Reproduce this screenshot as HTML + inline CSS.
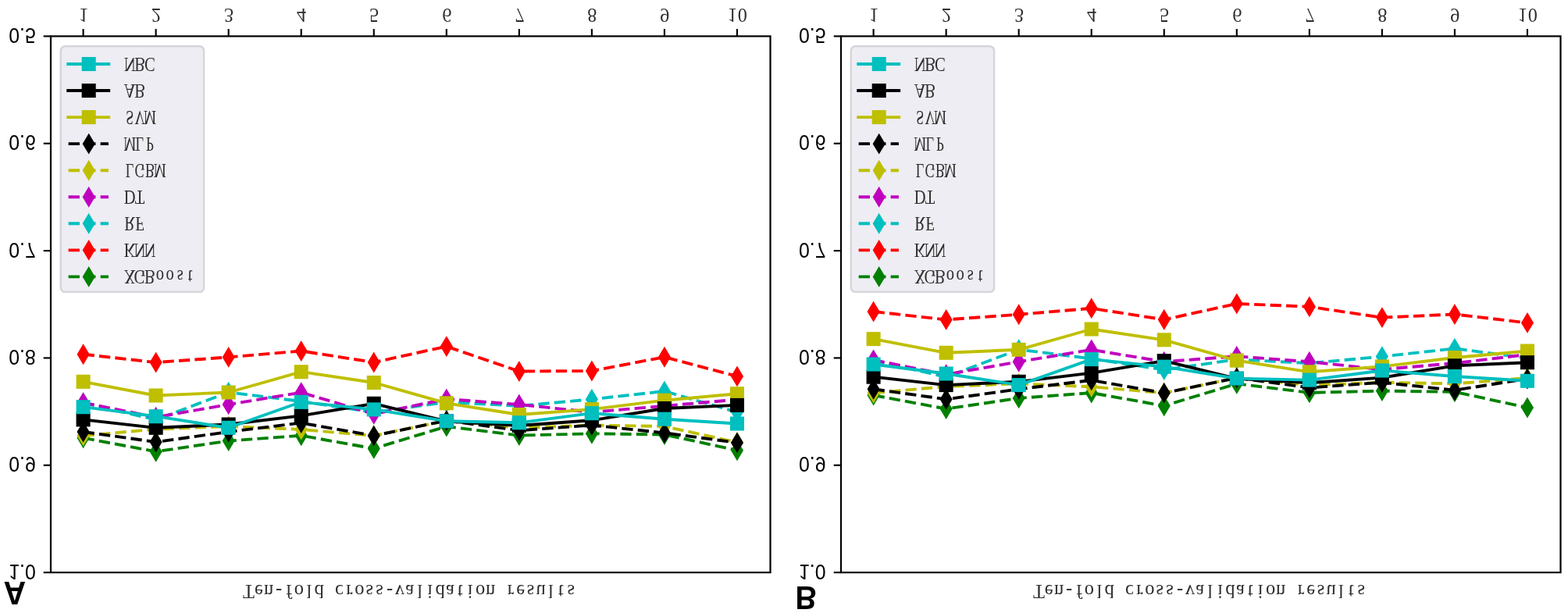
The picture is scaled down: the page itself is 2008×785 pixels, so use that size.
<!DOCTYPE html>
<html lang="en">
<head>
<meta charset="utf-8">
<title>Ten-fold cross-validation results</title>
<style>
html,body{margin:0;padding:0;background:#fff;}
body{width:2008px;height:785px;overflow:hidden;}
svg{display:block;}
text{white-space:pre;}
.t{font-family:"Liberation Serif",serif;font-size:25.74px;fill:#2e2e2e;text-anchor:middle;}
.yt{font-family:"Liberation Sans",sans-serif;font-size:25.74px;fill:#000;text-anchor:end;}
.pl{font-family:"Liberation Sans",sans-serif;font-weight:bold;font-size:41.6px;fill:#000;}
.s polyline,.s line{fill:none;stroke-width:3.87;stroke-linejoin:round;stroke-linecap:butt;}
.s.dash polyline,.s.dash line{stroke-dasharray:14.31 6.19;}
.s rect,.s polygon{stroke-width:2.574;stroke-linejoin:miter;stroke-miterlimit:10;}
.c{stroke:#00BFBF;fill:#00BFBF;}
.k{stroke:#000000;fill:#000000;}
.y{stroke:#BFBF00;fill:#BFBF00;}
.m{stroke:#BF00BF;fill:#BF00BF;}
.r{stroke:#FF0000;fill:#FF0000;}
.g{stroke:#008000;fill:#008000;}
.spine{fill:none;stroke:#000;stroke-width:2.2;}
.tick line{stroke:#000;stroke-width:2.15;}
.legend{fill:#ededf3;stroke:#d5d5d9;stroke-width:2.4;}
</style>
</head>
<body>
<svg width="2008" height="785" viewBox="0 0 2008 785">
<rect x="0" y="0" width="2008" height="785" fill="#ffffff"/>
<g class="panel" id="panel-A">
<g class="s g dash">
<polyline points="106.6,560.8 199.64,578.3 292.68,564.6 385.72,557.8 478.76,574.4 571.8,546.1 664.84,557.6 757.88,555.3 850.92,556.5 943.96,576.7"/>
<polygon points="106.6,549.86 113.16,560.8 106.6,571.74 100.04,560.8"/>
<polygon points="199.64,567.36 206.2,578.3 199.64,589.24 193.08,578.3"/>
<polygon points="292.68,553.66 299.24,564.6 292.68,575.54 286.12,564.6"/>
<polygon points="385.72,546.86 392.28,557.8 385.72,568.74 379.16,557.8"/>
<polygon points="478.76,563.46 485.32,574.4 478.76,585.34 472.2,574.4"/>
<polygon points="571.8,535.16 578.36,546.1 571.8,557.04 565.24,546.1"/>
<polygon points="664.84,546.66 671.4,557.6 664.84,568.54 658.28,557.6"/>
<polygon points="757.88,544.36 764.44,555.3 757.88,566.24 751.32,555.3"/>
<polygon points="850.92,545.56 857.48,556.5 850.92,567.44 844.36,556.5"/>
<polygon points="943.96,565.76 950.52,576.7 943.96,587.64 937.4,576.7"/>
</g>
<g class="s r dash">
<polyline points="106.6,453.7 199.64,464.1 292.68,457.4 385.72,449.5 478.76,464 571.8,443.6 664.84,475.5 757.88,475 850.92,457.2 943.96,481.9"/>
<polygon points="106.6,442.76 113.16,453.7 106.6,464.64 100.04,453.7"/>
<polygon points="199.64,453.16 206.2,464.1 199.64,475.04 193.08,464.1"/>
<polygon points="292.68,446.46 299.24,457.4 292.68,468.34 286.12,457.4"/>
<polygon points="385.72,438.56 392.28,449.5 385.72,460.44 379.16,449.5"/>
<polygon points="478.76,453.06 485.32,464 478.76,474.94 472.2,464"/>
<polygon points="571.8,432.66 578.36,443.6 571.8,454.54 565.24,443.6"/>
<polygon points="664.84,464.56 671.4,475.5 664.84,486.44 658.28,475.5"/>
<polygon points="757.88,464.06 764.44,475 757.88,485.94 751.32,475"/>
<polygon points="850.92,446.26 857.48,457.2 850.92,468.14 844.36,457.2"/>
<polygon points="943.96,470.96 950.52,481.9 943.96,492.84 937.4,481.9"/>
</g>
<g class="s c dash">
<polyline points="106.6,516 199.64,537.5 292.68,502.3 385.72,514 478.76,528 571.8,515 664.84,519.8 757.88,511.3 850.92,501 943.96,527.8"/>
<polygon points="106.6,505.06 113.16,516 106.6,526.94 100.04,516"/>
<polygon points="199.64,526.56 206.2,537.5 199.64,548.44 193.08,537.5"/>
<polygon points="292.68,491.36 299.24,502.3 292.68,513.24 286.12,502.3"/>
<polygon points="385.72,503.06 392.28,514 385.72,524.94 379.16,514"/>
<polygon points="478.76,517.06 485.32,528 478.76,538.94 472.2,528"/>
<polygon points="571.8,504.06 578.36,515 571.8,525.94 565.24,515"/>
<polygon points="664.84,508.86 671.4,519.8 664.84,530.74 658.28,519.8"/>
<polygon points="757.88,500.36 764.44,511.3 757.88,522.24 751.32,511.3"/>
<polygon points="850.92,490.06 857.48,501 850.92,511.94 844.36,501"/>
<polygon points="943.96,516.86 950.52,527.8 943.96,538.74 937.4,527.8"/>
</g>
<g class="s m dash">
<polyline points="106.6,515.7 199.64,534.3 292.68,517.9 385.72,502.6 478.76,530.2 571.8,511 664.84,518 757.88,527.8 850.92,519.8 943.96,511.7"/>
<polygon points="106.6,504.76 113.16,515.7 106.6,526.64 100.04,515.7"/>
<polygon points="199.64,523.36 206.2,534.3 199.64,545.24 193.08,534.3"/>
<polygon points="292.68,506.96 299.24,517.9 292.68,528.84 286.12,517.9"/>
<polygon points="385.72,491.66 392.28,502.6 385.72,513.54 379.16,502.6"/>
<polygon points="478.76,519.26 485.32,530.2 478.76,541.14 472.2,530.2"/>
<polygon points="571.8,500.06 578.36,511 571.8,521.94 565.24,511"/>
<polygon points="664.84,507.06 671.4,518 664.84,528.94 658.28,518"/>
<polygon points="757.88,516.86 764.44,527.8 757.88,538.74 751.32,527.8"/>
<polygon points="850.92,508.86 857.48,519.8 850.92,530.74 844.36,519.8"/>
<polygon points="943.96,500.76 950.52,511.7 943.96,522.64 937.4,511.7"/>
</g>
<g class="s y dash">
<polyline points="106.6,558 199.64,549.6 292.68,546 385.72,550 478.76,558 571.8,538.6 664.84,548 757.88,544.5 850.92,546 943.96,566.5"/>
<polygon points="106.6,547.06 113.16,558 106.6,568.94 100.04,558"/>
<polygon points="199.64,538.66 206.2,549.6 199.64,560.54 193.08,549.6"/>
<polygon points="292.68,535.06 299.24,546 292.68,556.94 286.12,546"/>
<polygon points="385.72,539.06 392.28,550 385.72,560.94 379.16,550"/>
<polygon points="478.76,547.06 485.32,558 478.76,568.94 472.2,558"/>
<polygon points="571.8,527.66 578.36,538.6 571.8,549.54 565.24,538.6"/>
<polygon points="664.84,537.06 671.4,548 664.84,558.94 658.28,548"/>
<polygon points="757.88,533.56 764.44,544.5 757.88,555.44 751.32,544.5"/>
<polygon points="850.92,535.06 857.48,546 850.92,556.94 844.36,546"/>
<polygon points="943.96,555.56 950.52,566.5 943.96,577.44 937.4,566.5"/>
</g>
<g class="s k dash">
<polyline points="106.6,553 199.64,566 292.68,553 385.72,541.6 478.76,558 571.8,538.6 664.84,551.2 757.88,544.5 850.92,554.4 943.96,566.9"/>
<polygon points="106.6,542.06 113.16,553 106.6,563.94 100.04,553"/>
<polygon points="199.64,555.06 206.2,566 199.64,576.94 193.08,566"/>
<polygon points="292.68,542.06 299.24,553 292.68,563.94 286.12,553"/>
<polygon points="385.72,530.66 392.28,541.6 385.72,552.54 379.16,541.6"/>
<polygon points="478.76,547.06 485.32,558 478.76,568.94 472.2,558"/>
<polygon points="571.8,527.66 578.36,538.6 571.8,549.54 565.24,538.6"/>
<polygon points="664.84,540.26 671.4,551.2 664.84,562.14 658.28,551.2"/>
<polygon points="757.88,533.56 764.44,544.5 757.88,555.44 751.32,544.5"/>
<polygon points="850.92,543.46 857.48,554.4 850.92,565.34 844.36,554.4"/>
<polygon points="943.96,555.96 950.52,566.9 943.96,577.84 937.4,566.9"/>
</g>
<g class="s y">
<polyline points="106.6,488.8 199.64,506.5 292.68,502.5 385.72,476.2 478.76,490 571.8,516.3 664.84,531 757.88,524.1 850.92,512.7 943.96,504.2"/>
<rect x="98.86" y="481.06" width="15.47" height="15.47"/>
<rect x="191.9" y="498.76" width="15.47" height="15.47"/>
<rect x="284.94" y="494.76" width="15.47" height="15.47"/>
<rect x="377.99" y="468.46" width="15.47" height="15.47"/>
<rect x="471.02" y="482.26" width="15.47" height="15.47"/>
<rect x="564.07" y="508.56" width="15.47" height="15.47"/>
<rect x="657.11" y="523.26" width="15.47" height="15.47"/>
<rect x="750.15" y="516.37" width="15.47" height="15.47"/>
<rect x="843.19" y="504.97" width="15.47" height="15.47"/>
<rect x="936.23" y="496.46" width="15.47" height="15.47"/>
</g>
<g class="s k">
<polyline points="106.6,537.4 199.64,547.8 292.68,543.5 385.72,532.4 478.76,516.8 571.8,539.5 664.84,545 757.88,538.3 850.92,523 943.96,518.9"/>
<rect x="98.86" y="529.66" width="15.47" height="15.47"/>
<rect x="191.9" y="540.06" width="15.47" height="15.47"/>
<rect x="284.94" y="535.76" width="15.47" height="15.47"/>
<rect x="377.99" y="524.66" width="15.47" height="15.47"/>
<rect x="471.02" y="509.06" width="15.47" height="15.47"/>
<rect x="564.07" y="531.76" width="15.47" height="15.47"/>
<rect x="657.11" y="537.26" width="15.47" height="15.47"/>
<rect x="750.15" y="530.56" width="15.47" height="15.47"/>
<rect x="843.19" y="515.26" width="15.47" height="15.47"/>
<rect x="936.23" y="511.16" width="15.47" height="15.47"/>
</g>
<g class="s c">
<polyline points="106.6,521.2 199.64,533.2 292.68,547.8 385.72,514.8 478.76,524.4 571.8,539.3 664.84,541.3 757.88,529.2 850.92,536.7 943.96,542.5"/>
<rect x="98.86" y="513.47" width="15.47" height="15.47"/>
<rect x="191.9" y="525.47" width="15.47" height="15.47"/>
<rect x="284.94" y="540.06" width="15.47" height="15.47"/>
<rect x="377.99" y="507.06" width="15.47" height="15.47"/>
<rect x="471.02" y="516.66" width="15.47" height="15.47"/>
<rect x="564.07" y="531.56" width="15.47" height="15.47"/>
<rect x="657.11" y="533.56" width="15.47" height="15.47"/>
<rect x="750.15" y="521.47" width="15.47" height="15.47"/>
<rect x="843.19" y="528.97" width="15.47" height="15.47"/>
<rect x="936.23" y="534.76" width="15.47" height="15.47"/>
</g>
<rect class="spine" x="65" y="46.4" width="921.5" height="686.7"/>
<g class="tick">
<line x1="106.6" y1="46.4" x2="106.6" y2="37.1"/>
<line x1="199.64" y1="46.4" x2="199.64" y2="37.1"/>
<line x1="292.68" y1="46.4" x2="292.68" y2="37.1"/>
<line x1="385.72" y1="46.4" x2="385.72" y2="37.1"/>
<line x1="478.76" y1="46.4" x2="478.76" y2="37.1"/>
<line x1="571.8" y1="46.4" x2="571.8" y2="37.1"/>
<line x1="664.84" y1="46.4" x2="664.84" y2="37.1"/>
<line x1="757.88" y1="46.4" x2="757.88" y2="37.1"/>
<line x1="850.92" y1="46.4" x2="850.92" y2="37.1"/>
<line x1="943.96" y1="46.4" x2="943.96" y2="37.1"/>
<line x1="65" y1="46.4" x2="55.7" y2="46.4"/>
<line x1="65" y1="183.74" x2="55.7" y2="183.74"/>
<line x1="65" y1="321.08" x2="55.7" y2="321.08"/>
<line x1="65" y1="458.42" x2="55.7" y2="458.42"/>
<line x1="65" y1="595.76" x2="55.7" y2="595.76"/>
<line x1="65" y1="733.1" x2="55.7" y2="733.1"/>
</g>
<text class="t" transform="translate(0,10.6) scale(0.94,-1)" x="113.83" y="0">1</text>
<text class="t" transform="translate(0,10.6) scale(0.94,-1)" x="212.81" y="0">2</text>
<text class="t" transform="translate(0,10.6) scale(0.94,-1)" x="311.79" y="0">3</text>
<text class="t" transform="translate(0,10.6) scale(0.94,-1)" x="410.77" y="0">4</text>
<text class="t" transform="translate(0,10.6) scale(0.94,-1)" x="509.74" y="0">5</text>
<text class="t" transform="translate(0,10.6) scale(0.94,-1)" x="608.72" y="0">6</text>
<text class="t" transform="translate(0,10.6) scale(0.94,-1)" x="707.7" y="0">7</text>
<text class="t" transform="translate(0,10.6) scale(0.94,-1)" x="806.68" y="0">8</text>
<text class="t" transform="translate(0,10.6) scale(0.94,-1)" x="905.66" y="0">9</text>
<text class="t" transform="translate(0,10.6) scale(0.94,-1)" x="997.78 1011.5" y="0">10</text>
<text class="yt" transform="translate(45.8,36.1) scale(0.965,-1.09)">0.5</text>
<text class="yt" transform="translate(45.8,173.44) scale(0.965,-1.09)">0.6</text>
<text class="yt" transform="translate(45.8,310.78) scale(0.965,-1.09)">0.7</text>
<text class="yt" transform="translate(45.8,448.12) scale(0.965,-1.09)">0.8</text>
<text class="yt" transform="translate(45.8,585.46) scale(0.965,-1.09)">0.9</text>
<text class="yt" transform="translate(45.8,722.8) scale(0.965,-1.09)">1.0</text>
<rect class="legend" x="77.8" y="59.2" width="183.3" height="314.7" rx="5.5" ry="5.5"/>
<g class="s c"><line x1="85.25" y1="82" x2="141.15" y2="82"/><rect x="105.96" y="74.27" width="15.47" height="15.47"/></g>
<text class="t" transform="translate(0,73.7) scale(0.8,-1)" x="207.69 223.81 239.94" y="0">NBC</text>
<g class="s k"><line x1="85.25" y1="116.05" x2="141.15" y2="116.05"/><rect x="105.96" y="108.31" width="15.47" height="15.47"/></g>
<text class="t" transform="translate(0,107.75) scale(0.8,-1)" x="207.69 223.81" y="0">AB</text>
<g class="s y"><line x1="85.25" y1="150.1" x2="141.15" y2="150.1"/><rect x="105.96" y="142.36" width="15.47" height="15.47"/></g>
<text class="t" transform="translate(0,141.8) scale(0.7,-1)" x="237.36 255.79 274.21" y="0">SVM</text>
<g class="s k dash"><line x1="87.65" y1="184.15" x2="138.95" y2="184.15"/><polygon points="113.7,173.21 120.26,184.15 113.7,195.09 107.14,184.15"/></g>
<text class="t" transform="translate(0,175.85) scale(0.7,-1)" x="237.36 255.79 274.21" y="0">MLP</text>
<g class="s y dash"><line x1="87.65" y1="218.2" x2="138.95" y2="218.2"/><polygon points="113.7,207.26 120.26,218.2 113.7,229.14 107.14,218.2"/></g>
<text class="t" transform="translate(0,209.9) scale(0.7,-1)" x="237.36 255.79 274.21 292.64" y="0">LGBM</text>
<g class="s m dash"><line x1="87.65" y1="252.25" x2="138.95" y2="252.25"/><polygon points="113.7,241.31 120.26,252.25 113.7,263.19 107.14,252.25"/></g>
<text class="t" transform="translate(0,243.95) scale(0.8,-1)" x="207.69 223.81" y="0">DT</text>
<g class="s c dash"><line x1="87.65" y1="286.3" x2="138.95" y2="286.3"/><polygon points="113.7,275.36 120.26,286.3 113.7,297.24 107.14,286.3"/></g>
<text class="t" transform="translate(0,278) scale(0.8,-1)" x="207.69 223.81" y="0">RF</text>
<g class="s r dash"><line x1="87.65" y1="320.35" x2="138.95" y2="320.35"/><polygon points="113.7,309.41 120.26,320.35 113.7,331.29 107.14,320.35"/></g>
<text class="t" transform="translate(0,312.05) scale(0.8,-1)" x="207.69 223.81 239.94" y="0">KNN</text>
<g class="s g dash"><line x1="87.65" y1="354.4" x2="138.95" y2="354.4"/><polygon points="113.7,343.46 120.26,354.4 113.7,365.34 107.14,354.4"/></g>
<text class="t" transform="translate(0,346.1) scale(0.8,-1)" x="207.69 223.81 239.94 256.06 272.19 288.31 304.44" y="0">XGBoost</text>
<text class="t" transform="translate(0,749.4) scale(0.95,-1)" x="335.16 348.74 362.32 375.89 389.47 403.05 416.63 430.21 443.79 457.37 470.95 484.53 498.11 511.68 525.26 538.84 552.42 566 579.58 593.16 606.74 620.32 633.89 647.47 661.05 674.63 688.21 701.79 715.37 728.95 742.53 756.11 769.68" y="0">Ten-fold cross-validation results</text>
<text class="pl" transform="translate(4.4,745.1) scale(0.955,-1)">A</text>
</g>
<g class="panel" id="panel-B">
<g class="s g dash">
<polyline points="1118.6,506.1 1211.64,523.6 1304.68,509.9 1397.72,503.1 1490.76,519.7 1583.8,491.4 1676.84,502.9 1769.88,500.6 1862.92,501.8 1955.96,522"/>
<polygon points="1118.6,495.16 1125.16,506.1 1118.6,517.04 1112.04,506.1"/>
<polygon points="1211.64,512.66 1218.2,523.6 1211.64,534.54 1205.08,523.6"/>
<polygon points="1304.68,498.96 1311.24,509.9 1304.68,520.84 1298.12,509.9"/>
<polygon points="1397.72,492.16 1404.28,503.1 1397.72,514.04 1391.16,503.1"/>
<polygon points="1490.76,508.76 1497.32,519.7 1490.76,530.64 1484.2,519.7"/>
<polygon points="1583.8,480.46 1590.36,491.4 1583.8,502.34 1577.24,491.4"/>
<polygon points="1676.84,491.96 1683.4,502.9 1676.84,513.84 1670.28,502.9"/>
<polygon points="1769.88,489.66 1776.44,500.6 1769.88,511.54 1763.32,500.6"/>
<polygon points="1862.92,490.86 1869.48,501.8 1862.92,512.74 1856.36,501.8"/>
<polygon points="1955.96,511.06 1962.52,522 1955.96,532.94 1949.4,522"/>
</g>
<g class="s r dash">
<polyline points="1118.6,399 1211.64,409.4 1304.68,402.7 1397.72,394.8 1490.76,409.3 1583.8,388.9 1676.84,392.8 1769.88,406.6 1862.92,402.5 1955.96,413.4"/>
<polygon points="1118.6,388.06 1125.16,399 1118.6,409.94 1112.04,399"/>
<polygon points="1211.64,398.46 1218.2,409.4 1211.64,420.34 1205.08,409.4"/>
<polygon points="1304.68,391.76 1311.24,402.7 1304.68,413.64 1298.12,402.7"/>
<polygon points="1397.72,383.86 1404.28,394.8 1397.72,405.74 1391.16,394.8"/>
<polygon points="1490.76,398.36 1497.32,409.3 1490.76,420.24 1484.2,409.3"/>
<polygon points="1583.8,377.96 1590.36,388.9 1583.8,399.84 1577.24,388.9"/>
<polygon points="1676.84,381.86 1683.4,392.8 1676.84,403.74 1670.28,392.8"/>
<polygon points="1769.88,395.66 1776.44,406.6 1769.88,417.54 1763.32,406.6"/>
<polygon points="1862.92,391.56 1869.48,402.5 1862.92,413.44 1856.36,402.5"/>
<polygon points="1955.96,402.46 1962.52,413.4 1955.96,424.34 1949.4,413.4"/>
</g>
<g class="s c dash">
<polyline points="1118.6,461.3 1211.64,482.8 1304.68,447.6 1397.72,459.3 1490.76,473.5 1583.8,460.3 1676.84,465.1 1769.88,456.6 1862.92,446.3 1955.96,458.6"/>
<polygon points="1118.6,450.36 1125.16,461.3 1118.6,472.24 1112.04,461.3"/>
<polygon points="1211.64,471.86 1218.2,482.8 1211.64,493.74 1205.08,482.8"/>
<polygon points="1304.68,436.66 1311.24,447.6 1304.68,458.54 1298.12,447.6"/>
<polygon points="1397.72,448.36 1404.28,459.3 1397.72,470.24 1391.16,459.3"/>
<polygon points="1490.76,462.56 1497.32,473.5 1490.76,484.44 1484.2,473.5"/>
<polygon points="1583.8,449.36 1590.36,460.3 1583.8,471.24 1577.24,460.3"/>
<polygon points="1676.84,454.16 1683.4,465.1 1676.84,476.04 1670.28,465.1"/>
<polygon points="1769.88,445.66 1776.44,456.6 1769.88,467.54 1763.32,456.6"/>
<polygon points="1862.92,435.36 1869.48,446.3 1862.92,457.24 1856.36,446.3"/>
<polygon points="1955.96,447.66 1962.52,458.6 1955.96,469.54 1949.4,458.6"/>
</g>
<g class="s m dash">
<polyline points="1118.6,461 1211.64,479.6 1304.68,463.2 1397.72,447.9 1490.76,463.2 1583.8,456.3 1676.84,463.3 1769.88,473.1 1862.92,465.1 1955.96,454"/>
<polygon points="1118.6,450.06 1125.16,461 1118.6,471.94 1112.04,461"/>
<polygon points="1211.64,468.66 1218.2,479.6 1211.64,490.54 1205.08,479.6"/>
<polygon points="1304.68,452.26 1311.24,463.2 1304.68,474.14 1298.12,463.2"/>
<polygon points="1397.72,436.96 1404.28,447.9 1397.72,458.84 1391.16,447.9"/>
<polygon points="1490.76,452.26 1497.32,463.2 1490.76,474.14 1484.2,463.2"/>
<polygon points="1583.8,445.36 1590.36,456.3 1583.8,467.24 1577.24,456.3"/>
<polygon points="1676.84,452.36 1683.4,463.3 1676.84,474.24 1670.28,463.3"/>
<polygon points="1769.88,462.16 1776.44,473.1 1769.88,484.04 1763.32,473.1"/>
<polygon points="1862.92,454.16 1869.48,465.1 1862.92,476.04 1856.36,465.1"/>
<polygon points="1955.96,443.06 1962.52,454 1955.96,464.94 1949.4,454"/>
</g>
<g class="s y dash">
<polyline points="1118.6,503.3 1211.64,494.9 1304.68,491.3 1397.72,495.3 1490.76,503.3 1583.8,483.9 1676.84,493.3 1769.88,489.8 1862.92,491.3 1955.96,484"/>
<polygon points="1118.6,492.36 1125.16,503.3 1118.6,514.24 1112.04,503.3"/>
<polygon points="1211.64,483.96 1218.2,494.9 1211.64,505.84 1205.08,494.9"/>
<polygon points="1304.68,480.36 1311.24,491.3 1304.68,502.24 1298.12,491.3"/>
<polygon points="1397.72,484.36 1404.28,495.3 1397.72,506.24 1391.16,495.3"/>
<polygon points="1490.76,492.36 1497.32,503.3 1490.76,514.24 1484.2,503.3"/>
<polygon points="1583.8,472.96 1590.36,483.9 1583.8,494.84 1577.24,483.9"/>
<polygon points="1676.84,482.36 1683.4,493.3 1676.84,504.24 1670.28,493.3"/>
<polygon points="1769.88,478.86 1776.44,489.8 1769.88,500.74 1763.32,489.8"/>
<polygon points="1862.92,480.36 1869.48,491.3 1862.92,502.24 1856.36,491.3"/>
<polygon points="1955.96,473.06 1962.52,484 1955.96,494.94 1949.4,484"/>
</g>
<g class="s k dash">
<polyline points="1118.6,498.3 1211.64,511.3 1304.68,498.3 1397.72,486.9 1490.76,503.3 1583.8,483.9 1676.84,496.5 1769.88,489.8 1862.92,499.7 1955.96,485"/>
<polygon points="1118.6,487.36 1125.16,498.3 1118.6,509.24 1112.04,498.3"/>
<polygon points="1211.64,500.36 1218.2,511.3 1211.64,522.24 1205.08,511.3"/>
<polygon points="1304.68,487.36 1311.24,498.3 1304.68,509.24 1298.12,498.3"/>
<polygon points="1397.72,475.96 1404.28,486.9 1397.72,497.84 1391.16,486.9"/>
<polygon points="1490.76,492.36 1497.32,503.3 1490.76,514.24 1484.2,503.3"/>
<polygon points="1583.8,472.96 1590.36,483.9 1583.8,494.84 1577.24,483.9"/>
<polygon points="1676.84,485.56 1683.4,496.5 1676.84,507.44 1670.28,496.5"/>
<polygon points="1769.88,478.86 1776.44,489.8 1769.88,500.74 1763.32,489.8"/>
<polygon points="1862.92,488.76 1869.48,499.7 1862.92,510.64 1856.36,499.7"/>
<polygon points="1955.96,474.06 1962.52,485 1955.96,495.94 1949.4,485"/>
</g>
<g class="s y">
<polyline points="1118.6,434.1 1211.64,451.8 1304.68,447.8 1397.72,421.5 1490.76,435.3 1583.8,461.6 1676.84,476.3 1769.88,469.4 1862.92,458 1955.96,449.5"/>
<rect x="1110.87" y="426.37" width="15.47" height="15.47"/>
<rect x="1203.9" y="444.06" width="15.47" height="15.47"/>
<rect x="1296.94" y="440.06" width="15.47" height="15.47"/>
<rect x="1389.98" y="413.76" width="15.47" height="15.47"/>
<rect x="1483.03" y="427.56" width="15.47" height="15.47"/>
<rect x="1576.07" y="453.86" width="15.47" height="15.47"/>
<rect x="1669.11" y="468.56" width="15.47" height="15.47"/>
<rect x="1762.15" y="461.67" width="15.47" height="15.47"/>
<rect x="1855.19" y="450.27" width="15.47" height="15.47"/>
<rect x="1948.23" y="441.76" width="15.47" height="15.47"/>
</g>
<g class="s k">
<polyline points="1118.6,482.7 1211.64,493.1 1304.68,488.8 1397.72,477.7 1490.76,462.1 1583.8,484.8 1676.84,490.3 1769.88,483.6 1862.92,468.3 1955.96,464.2"/>
<rect x="1110.87" y="474.96" width="15.47" height="15.47"/>
<rect x="1203.9" y="485.36" width="15.47" height="15.47"/>
<rect x="1296.94" y="481.06" width="15.47" height="15.47"/>
<rect x="1389.98" y="469.96" width="15.47" height="15.47"/>
<rect x="1483.03" y="454.36" width="15.47" height="15.47"/>
<rect x="1576.07" y="477.06" width="15.47" height="15.47"/>
<rect x="1669.11" y="482.56" width="15.47" height="15.47"/>
<rect x="1762.15" y="475.86" width="15.47" height="15.47"/>
<rect x="1855.19" y="460.56" width="15.47" height="15.47"/>
<rect x="1948.23" y="456.46" width="15.47" height="15.47"/>
</g>
<g class="s c">
<polyline points="1118.6,466.5 1211.64,478.5 1304.68,493.1 1397.72,460.1 1490.76,469.7 1583.8,484.6 1676.84,486.6 1769.88,474.5 1862.92,482 1955.96,487.8"/>
<rect x="1110.87" y="458.77" width="15.47" height="15.47"/>
<rect x="1203.9" y="470.77" width="15.47" height="15.47"/>
<rect x="1296.94" y="485.36" width="15.47" height="15.47"/>
<rect x="1389.98" y="452.36" width="15.47" height="15.47"/>
<rect x="1483.03" y="461.96" width="15.47" height="15.47"/>
<rect x="1576.07" y="476.86" width="15.47" height="15.47"/>
<rect x="1669.11" y="478.86" width="15.47" height="15.47"/>
<rect x="1762.15" y="466.77" width="15.47" height="15.47"/>
<rect x="1855.19" y="474.27" width="15.47" height="15.47"/>
<rect x="1948.23" y="480.06" width="15.47" height="15.47"/>
</g>
<rect class="spine" x="1077" y="46.4" width="921.5" height="686.7"/>
<g class="tick">
<line x1="1118.6" y1="46.4" x2="1118.6" y2="37.1"/>
<line x1="1211.64" y1="46.4" x2="1211.64" y2="37.1"/>
<line x1="1304.68" y1="46.4" x2="1304.68" y2="37.1"/>
<line x1="1397.72" y1="46.4" x2="1397.72" y2="37.1"/>
<line x1="1490.76" y1="46.4" x2="1490.76" y2="37.1"/>
<line x1="1583.8" y1="46.4" x2="1583.8" y2="37.1"/>
<line x1="1676.84" y1="46.4" x2="1676.84" y2="37.1"/>
<line x1="1769.88" y1="46.4" x2="1769.88" y2="37.1"/>
<line x1="1862.92" y1="46.4" x2="1862.92" y2="37.1"/>
<line x1="1955.96" y1="46.4" x2="1955.96" y2="37.1"/>
<line x1="1077" y1="46.4" x2="1067.7" y2="46.4"/>
<line x1="1077" y1="183.74" x2="1067.7" y2="183.74"/>
<line x1="1077" y1="321.08" x2="1067.7" y2="321.08"/>
<line x1="1077" y1="458.42" x2="1067.7" y2="458.42"/>
<line x1="1077" y1="595.76" x2="1067.7" y2="595.76"/>
<line x1="1077" y1="733.1" x2="1067.7" y2="733.1"/>
</g>
<text class="t" transform="translate(0,10.6) scale(0.94,-1)" x="1190.43" y="0">1</text>
<text class="t" transform="translate(0,10.6) scale(0.94,-1)" x="1289.4" y="0">2</text>
<text class="t" transform="translate(0,10.6) scale(0.94,-1)" x="1388.38" y="0">3</text>
<text class="t" transform="translate(0,10.6) scale(0.94,-1)" x="1487.36" y="0">4</text>
<text class="t" transform="translate(0,10.6) scale(0.94,-1)" x="1586.34" y="0">5</text>
<text class="t" transform="translate(0,10.6) scale(0.94,-1)" x="1685.32" y="0">6</text>
<text class="t" transform="translate(0,10.6) scale(0.94,-1)" x="1784.3" y="0">7</text>
<text class="t" transform="translate(0,10.6) scale(0.94,-1)" x="1883.28" y="0">8</text>
<text class="t" transform="translate(0,10.6) scale(0.94,-1)" x="1982.26" y="0">9</text>
<text class="t" transform="translate(0,10.6) scale(0.94,-1)" x="2074.37 2088.1" y="0">10</text>
<text class="yt" transform="translate(1057.5,36.1) scale(0.965,-1.09)">0.5</text>
<text class="yt" transform="translate(1057.5,173.44) scale(0.965,-1.09)">0.6</text>
<text class="yt" transform="translate(1057.5,310.78) scale(0.965,-1.09)">0.7</text>
<text class="yt" transform="translate(1057.5,448.12) scale(0.965,-1.09)">0.8</text>
<text class="yt" transform="translate(1057.5,585.46) scale(0.965,-1.09)">0.9</text>
<text class="yt" transform="translate(1057.5,722.8) scale(0.965,-1.09)">1.0</text>
<rect class="legend" x="1089.8" y="59.2" width="183.3" height="314.7" rx="5.5" ry="5.5"/>
<g class="s c"><line x1="1097.25" y1="82" x2="1153.15" y2="82"/><rect x="1117.97" y="74.27" width="15.47" height="15.47"/></g>
<text class="t" transform="translate(0,73.7) scale(0.8,-1)" x="1472.69 1488.81 1504.94" y="0">NBC</text>
<g class="s k"><line x1="1097.25" y1="116.05" x2="1153.15" y2="116.05"/><rect x="1117.97" y="108.31" width="15.47" height="15.47"/></g>
<text class="t" transform="translate(0,107.75) scale(0.8,-1)" x="1472.69 1488.81" y="0">AB</text>
<g class="s y"><line x1="1097.25" y1="150.1" x2="1153.15" y2="150.1"/><rect x="1117.97" y="142.36" width="15.47" height="15.47"/></g>
<text class="t" transform="translate(0,141.8) scale(0.7,-1)" x="1683.07 1701.5 1719.93" y="0">SVM</text>
<g class="s k dash"><line x1="1099.65" y1="184.15" x2="1150.95" y2="184.15"/><polygon points="1125.7,173.21 1132.26,184.15 1125.7,195.09 1119.14,184.15"/></g>
<text class="t" transform="translate(0,175.85) scale(0.7,-1)" x="1683.07 1701.5 1719.93" y="0">MLP</text>
<g class="s y dash"><line x1="1099.65" y1="218.2" x2="1150.95" y2="218.2"/><polygon points="1125.7,207.26 1132.26,218.2 1125.7,229.14 1119.14,218.2"/></g>
<text class="t" transform="translate(0,209.9) scale(0.7,-1)" x="1683.07 1701.5 1719.93 1738.36" y="0">LGBM</text>
<g class="s m dash"><line x1="1099.65" y1="252.25" x2="1150.95" y2="252.25"/><polygon points="1125.7,241.31 1132.26,252.25 1125.7,263.19 1119.14,252.25"/></g>
<text class="t" transform="translate(0,243.95) scale(0.8,-1)" x="1472.69 1488.81" y="0">DT</text>
<g class="s c dash"><line x1="1099.65" y1="286.3" x2="1150.95" y2="286.3"/><polygon points="1125.7,275.36 1132.26,286.3 1125.7,297.24 1119.14,286.3"/></g>
<text class="t" transform="translate(0,278) scale(0.8,-1)" x="1472.69 1488.81" y="0">RF</text>
<g class="s r dash"><line x1="1099.65" y1="320.35" x2="1150.95" y2="320.35"/><polygon points="1125.7,309.41 1132.26,320.35 1125.7,331.29 1119.14,320.35"/></g>
<text class="t" transform="translate(0,312.05) scale(0.8,-1)" x="1472.69 1488.81 1504.94" y="0">KNN</text>
<g class="s g dash"><line x1="1099.65" y1="354.4" x2="1150.95" y2="354.4"/><polygon points="1125.7,343.46 1132.26,354.4 1125.7,365.34 1119.14,354.4"/></g>
<text class="t" transform="translate(0,346.1) scale(0.8,-1)" x="1472.69 1488.81 1504.94 1521.06 1537.19 1553.31 1569.44" y="0">XGBoost</text>
<text class="t" transform="translate(0,749.4) scale(0.95,-1)" x="1400.42 1414 1427.58 1441.16 1454.74 1468.32 1481.89 1495.47 1509.05 1522.63 1536.21 1549.79 1563.37 1576.95 1590.53 1604.11 1617.68 1631.26 1644.84 1658.42 1672 1685.58 1699.16 1712.74 1726.32 1739.89 1753.47 1767.05 1780.63 1794.21 1807.79 1821.37 1834.95" y="0">Ten-fold cross-validation results</text>
<text class="pl" transform="translate(1018.6,751.3) scale(0.915,-1)">B</text>
</g>
</svg>
</body>
</html>
